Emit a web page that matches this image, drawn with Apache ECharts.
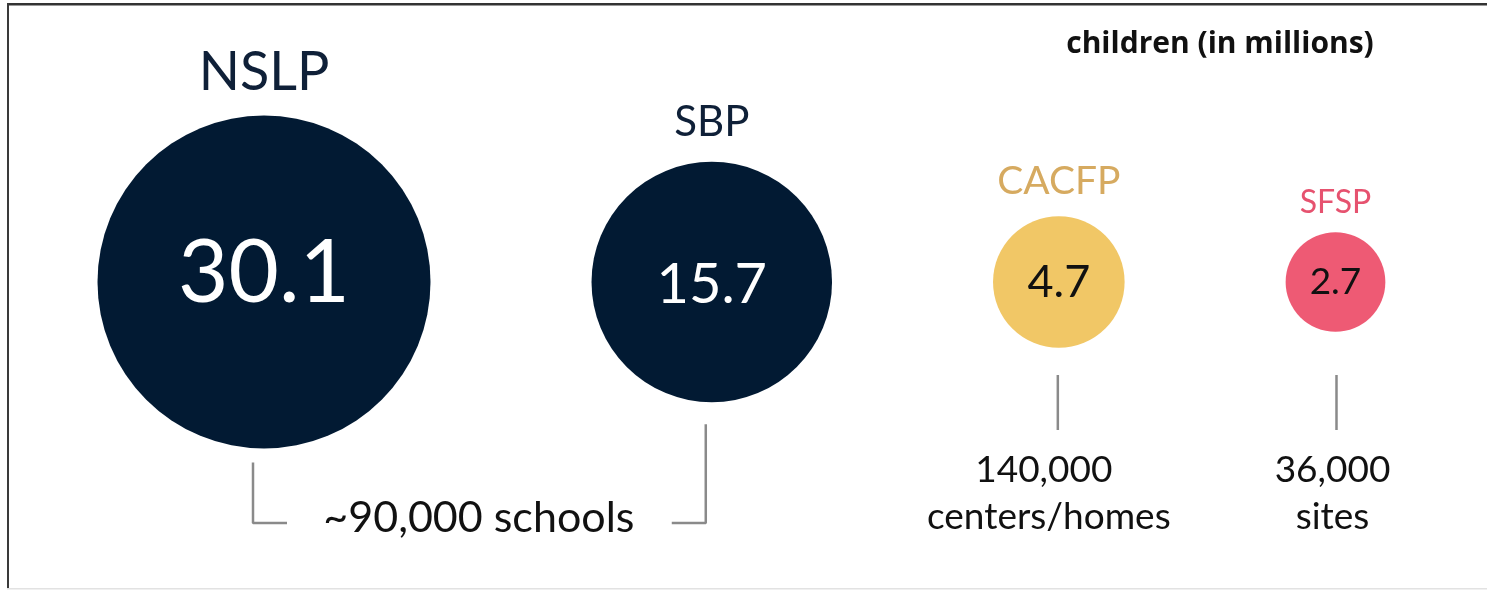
<!DOCTYPE html>
<html>
<head>
<meta charset="utf-8">
<script src="https://cdn.jsdelivr.net/npm/echarts@6/dist/echarts.min.js"></script>
<style>
html,body{margin:0;padding:0;background:#fff;}
#chart{width:1487px;height:590px;}
</style>
</head>
<body>
<div id="chart"></div>
<script>
// ---- data ----
const programs = ['NSLP', 'SBP', 'CACFP', 'SFSP'];
const children = [30.1, 15.7, 4.7, 2.7];            // children (in millions)
const siteCounts = ['~90,000', '140,000', '36,000'];
const siteUnits = ['schools', 'centers/homes', 'sites'];
const unitTitle = 'children (in millions)';

// ---- styles ----
const FONT = 'Lato, "Open Sans", sans-serif';
const circleColors = ['#021a33', '#021a33', '#f1c766', '#ee5a74'];
const nameColors = ['#0f2038', '#0f2038', '#d6aa60', '#e6526f'];
const valueColors = ['#ffffff', '#ffffff', '#111111', '#111111'];
const nameSizes = [54, 42, 39, 32];
const valueSizes = [87, 56, 45, 37];
const nameDistance = [16, 18, 15, 13];
const valueOffset = [[0, -8], [0, 3], [0, 0], [0, 0]];

const W = 1487, H = 590;
const K = 60.7;          // px diameter per sqrt(million)
const GAP = 161;         // px gap between circle edges
const START = 264;       // first circle centre x
const CY = 282;          // circle centre y

const diam = children.map(v => K * Math.sqrt(v));
const cx = [];
diam.forEach((d, i) => {
  cx.push(i === 0 ? START : cx[i - 1] + diam[i - 1] / 2 + GAP + d / 2);
});

const scatterData = programs.map((p, i) => ({
  name: p,
  value: [cx[i], CY, children[i]],
  symbolSize: diam[i],
  itemStyle: { color: circleColors[i], opacity: 1 },
  label: {
    show: true, position: 'inside', formatter: String(children[i]),
    color: valueColors[i], fontSize: valueSizes[i], fontFamily: FONT,
    offset: valueOffset[i], opacity: 1
  }
}));

const nameData = programs.map((p, i) => ({
  name: p,
  value: [cx[i], CY, children[i]],
  symbolSize: diam[i],
  itemStyle: { color: 'rgba(0,0,0,0)', opacity: 1 },
  label: {
    show: true, position: 'top', distance: nameDistance[i], formatter: p,
    color: nameColors[i], fontSize: nameSizes[i], fontFamily: FONT, opacity: 1
  }
}));

const grey = '#8a8a8a';
function seg(pts) {
  return { type: 'line', data: pts, symbol: 'none', silent: true, z: 1,
    lineStyle: { color: grey, width: 2.5 }, animation: false };
}
const bottoms = diam.map((d) => CY + d / 2);
const lineSeries = [
  seg([[cx[0] - 11, bottoms[0] + 14], [cx[0] - 11, 523], [cx[0] + 23, 523]]),
  seg([[cx[1] - 6, bottoms[1] + 22], [cx[1] - 6, 523], [cx[1] - 40, 523]]),
  seg([[cx[2] - 1, 375], [cx[2] - 1, 430]]),
  seg([[cx[3] + 1, 375], [cx[3] + 1, 430]])
];

const chart = echarts.init(document.getElementById('chart'), null, { renderer: 'canvas' });

function txt(text, x, y, size, weight, color, family) {
  return {
    type: 'text', x: x, y: y, silent: true, z: 10,
    style: {
      text: text, fill: color || '#111',
      font: (weight || 'normal') + ' ' + size + 'px ' + (family || FONT),
      textAlign: 'center', textVerticalAlign: 'middle', align: 'center', verticalAlign: 'middle'
    }
  };
}

chart.setOption({
  animation: false,
  backgroundColor: '#ffffff',
  grid: { left: 0, right: 0, top: 0, bottom: 0 },
  xAxis: { type: 'value', min: 0, max: W, show: false },
  yAxis: { type: 'value', min: 0, max: H, inverse: true, show: false },
  series: [
    ...lineSeries,
    { type: 'scatter', data: scatterData, symbol: 'circle', z: 3, silent: true,
      itemStyle: { opacity: 1 } },
    { type: 'scatter', data: nameData, symbol: 'circle', z: 4, silent: true,
      itemStyle: { opacity: 1 } }
  ],
  graphic: [
    { type: 'rect', z: 20, silent: true, shape: { x: 7, y: 3, width: W - 7, height: 2.5 }, style: { fill: '#333333' } },
    { type: 'rect', z: 20, silent: true, shape: { x: 7, y: 3, width: 2, height: 585 }, style: { fill: '#3a3a3a' } },
    { type: 'rect', z: 20, silent: true, shape: { x: 7, y: 588, width: W - 7, height: 1.5 }, style: { fill: '#e2e2e2' } },
    txt(unitTitle, 1220, 44, 30, 'bold', '#111', '"Open Sans", Lato, sans-serif'),
    txt(siteCounts[0] + ' ' + siteUnits[0], (cx[0] + cx[1]) / 2 - 9, 518, 43),
    txt(siteCounts[1], cx[2] - 15, 470, 37),
    txt(siteUnits[1], cx[2] - 10, 517, 37),
    txt(siteCounts[2], cx[3] - 3, 470, 37),
    txt(siteUnits[2], cx[3] - 3, 517, 37)
  ]
});
</script>
</body>
</html>
